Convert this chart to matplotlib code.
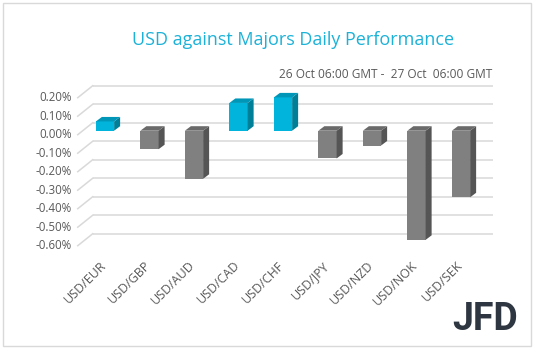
import matplotlib
matplotlib.use("Agg")
import matplotlib.pyplot as plt
from matplotlib.patches import Polygon, Rectangle

# ---- data ----
categories = ["USD/EUR", "USD/GBP", "USD/AUD", "USD/CAD", "USD/CHF",
              "USD/JPY", "USD/NZD", "USD/NOK", "USD/SEK"]
values = [0.05, -0.10, -0.26, 0.15, 0.18, -0.15, -0.08, -0.59, -0.36]
ytick_vals = [0.2, 0.1, 0.0, -0.1, -0.2, -0.3, -0.4, -0.5, -0.6]
title = "USD against Majors Daily Performance"
subtitle = "26 Oct 06:00 GMT -  27 Oct  06:00 GMT"

# ---- styling ----
plt.rcParams['font.family'] = ['Open Sans', 'DejaVu Sans']
W, H, DPI = 538, 352, 100
fig = plt.figure(figsize=(W / DPI, H / DPI), dpi=DPI)

# axes = plane of bar fronts
ax_left_px, ax_right_px = 82.75, 483.25
ax_top_px, ax_bot_px = 75.2, 241.7
ax = fig.add_axes([ax_left_px / W, (H - ax_bot_px) / H,
                   (ax_right_px - ax_left_px) / W, (ax_bot_px - ax_top_px) / H])
n = len(categories)
ax.set_xlim(-0.5, n - 0.5)
ax.set_ylim(-0.6, 0.3)
ax.axis('off')

px_x = (ax_right_px - ax_left_px) / n        # px per category unit
px_y = (ax_bot_px - ax_top_px) / 0.9         # px per 1.0 value unit

def off(dx_px, dy_px):
    return dx_px / px_x, dy_px / px_y

grid_c = "#d9d9d9"
# back wall offset and front floor offset (pixels; dy positive = up)
bdx, bdy = off(10, 8)
fdx, fdy = off(-5, -4)
for v in ytick_vals:
    ax.plot([-0.5 + bdx, n - 0.5 + bdx], [v + bdy, v + bdy], color=grid_c,
            lw=1.1, zorder=1, clip_on=False, solid_capstyle='butt')
    ax.plot([-0.5 + fdx, -0.5 + bdx], [v + fdy, v + bdy], color=grid_c,
            lw=1.1, zorder=1, clip_on=False)
    ax.text(-0.5 + off(-11, 0)[0], v + fdy, f"{v:.2f}%".replace("-0.00", "0.00"),
            ha='right', va='center', fontsize=8.3, color="#595959")

# bars with pseudo-3D faces
bw = 0.41
ddx, ddy = off(6, 4.5)
pos_cols = ("#00b4dc", "#007f99", "#0096b8")
neg_cols = ("#808080", "#555555", "#6a6a6a")
for i, v in enumerate(values):
    front, side, top = pos_cols if v >= 0 else neg_cols
    x0, x1 = i - bw / 2, i + bw / 2
    lo, hi = min(v, 0), max(v, 0)
    ax.bar(i, v, width=bw, color=front, zorder=3, edgecolor='none')
    ax.add_patch(Polygon([(x1, lo), (x1 + ddx, lo + ddy), (x1 + ddx, hi + ddy), (x1, hi)],
                         closed=True, facecolor=side, edgecolor='none', zorder=3,
                         clip_on=False))
    ax.add_patch(Polygon([(x0, hi), (x0 + ddx, hi + ddy), (x1 + ddx, hi + ddy), (x1, hi)],
                         closed=True, facecolor=top, edgecolor='none', zorder=3,
                         clip_on=False))

# category labels
for i, c in enumerate(categories):
    ax.text(i - 0.12, -0.6 + off(0, -17)[1], c, rotation=45, ha='right', va='top',
            rotation_mode='anchor', fontsize=9, color="#595959")

# titles
fig.text(293 / W, 1 - 40 / H, title, ha='center', va='center', fontsize=13,
         color="#1cb2d8")
fig.text(492 / W, 1 - 74 / H, subtitle, ha='right', va='center', fontsize=8.6,
         color="#595959")

# logo
fig.text(485 / W, 1 - 320 / H, "JFD", ha='center', va='center', fontsize=27,
         fontweight='bold', color="#2e3641", family=['Roboto', 'DejaVu Sans'])

# border
fig.patches.append(Rectangle((2.5 / W, 1 - 345.5 / H), 528.5 / W, 342.5 / H,
                             transform=fig.transFigure, fill=False,
                             edgecolor="#d9d9d9", lw=1))

fig.savefig("out.png", dpi=DPI, facecolor="white")
